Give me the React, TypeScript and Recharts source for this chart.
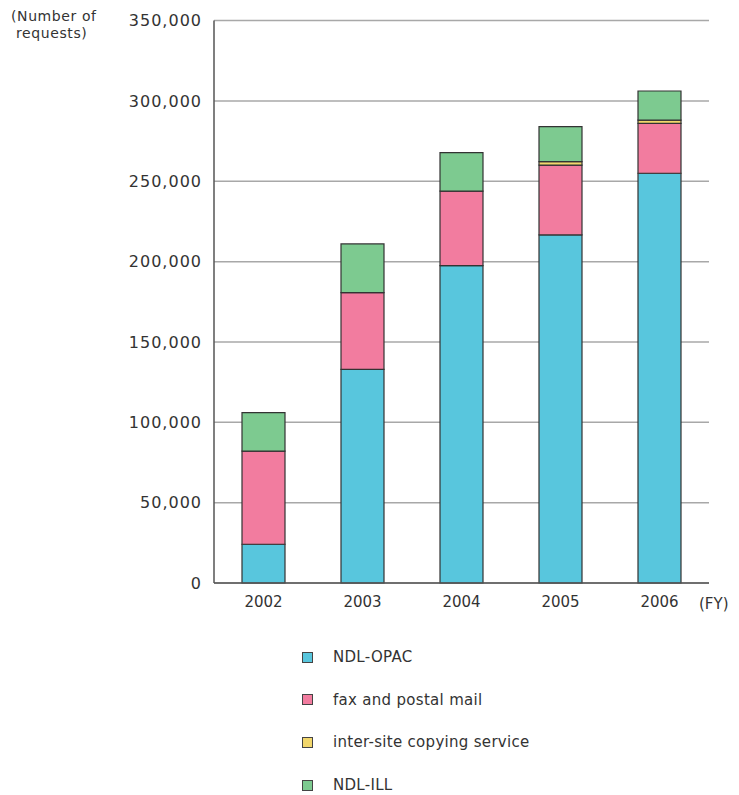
import React from 'react';
import { BarChart, Bar, XAxis, YAxis, CartesianGrid, Legend } from 'recharts';

const years = ['2002', '2003', '2004', '2005', '2006'];
const ndlOpac = [24100, 133000, 197500, 216600, 255000];
const faxPostal = [58000, 47700, 46400, 43500, 31100];
const interSite = [0, 0, 0, 2100, 2000];
const ndlIll = [23900, 30300, 23900, 21800, 18100];
const yTicks = [0, 50000, 100000, 150000, 200000, 250000, 300000, 350000];
const boundaryTicks = [1, 2, 3, 4];

const series = [
  { key: 'opac', name: 'NDL-OPAC', color: '#58C6DD', values: ndlOpac },
  { key: 'fax', name: 'fax and postal mail', color: '#F27C9F', values: faxPostal },
  { key: 'inter', name: 'inter-site copying service', color: '#F2D76C', values: interSite },
  { key: 'ill', name: 'NDL-ILL', color: '#7DCA90', values: ndlIll },
];

const data = years.map((y, i) => {
  const row: Record<string, any> = { year: y };
  series.forEach((s) => { row[s.key] = s.values[i]; });
  return row;
});

const FONT = '"DejaVu Sans", sans-serif';

const fmt = (v: number) => v.toLocaleString('en-US');

const LegendContent = () => (
  <div style={{ fontFamily: FONT, fontSize: 15, color: '#333' }}>
    {series.map((s) => (
      <div key={s.key} style={{ display: 'flex', alignItems: 'center', height: 42.6 }}>
        <span
          style={{
            display: 'inline-block',
            width: 9,
            height: 9,
            background: s.color,
            border: '1px solid #444',
            marginRight: 20,
          }}
        />
        <span style={{ letterSpacing: 0.3 }}>{s.name}</span>
      </div>
    ))}
  </div>
);

export default function App() {
  return (
    <div style={{ position: 'absolute', left: 0, top: 0, width: 739, height: 795, background: '#fff' }}>
      <BarChart
        width={739}
        height={795}
        data={data}
        margin={{ top: 20.6, right: 30, left: 0, bottom: 182 }}
        barSize={43}
      >
        <CartesianGrid horizontal vertical={false} stroke="#A8A8A8" strokeWidth={1.5} />
        <XAxis
          xAxisId="minor"
          type="number"
          domain={[0, 5]}
          ticks={boundaryTicks}
          height={0}
          axisLine={false}
          tick={false}
          tickSize={-5}
          tickLine={{ stroke: '#777' }}
        />
        <XAxis
          dataKey="year"
          height={30}
          axisLine={{ stroke: '#555', strokeWidth: 1.5 }}
          tickLine={false}
          tickSize={0}
          tickMargin={13}
          tick={{ fontFamily: FONT, fontSize: 15, fill: '#333' }}
        />
        <YAxis
          width={214}
          domain={[0, 350000]}
          ticks={yTicks}
          interval={0}
          tickFormatter={fmt}
          axisLine={{ stroke: '#555', strokeWidth: 1.5 }}
          tickLine={false}
          tickSize={0}
          tickMargin={12}
          tick={{ fontFamily: FONT, fontSize: 16, fill: '#333', letterSpacing: 1 }}
        />
        <YAxis
          yAxisId="right"
          orientation="right"
          width={0}
          tick={false}
          tickLine={false}
          axisLine={{ stroke: '#999', strokeWidth: 1.5 }}
        />
        {series.map((s) => (
          <Bar
            key={s.key}
            dataKey={s.key}
            name={s.name}
            stackId="a"
            fill={s.color}
            stroke="#333"
            strokeWidth={1.2}
            isAnimationActive={false}
          />
        ))}
        <Legend
          layout="vertical"
          align="center"
          verticalAlign="middle"
          content={<LegendContent />}
          wrapperStyle={{ position: 'absolute', left: 302, top: 636, width: 320 }}
        />
      </BarChart>
      <div
        style={{
          position: 'absolute',
          left: 11,
          top: 8,
          fontFamily: FONT,
          fontSize: 14,
          lineHeight: '17px',
          color: '#333',
          letterSpacing: 0.6,
        }}
      >
        (Number of
        <br />
        <span style={{ paddingLeft: 5 }}>requests)</span>
      </div>
      <div
        style={{
          position: 'absolute',
          left: 699,
          top: 596,
          fontFamily: FONT,
          fontSize: 15,
          lineHeight: '17px',
          color: '#333',
        }}
      >
        (FY)
      </div>
    </div>
  );
}
